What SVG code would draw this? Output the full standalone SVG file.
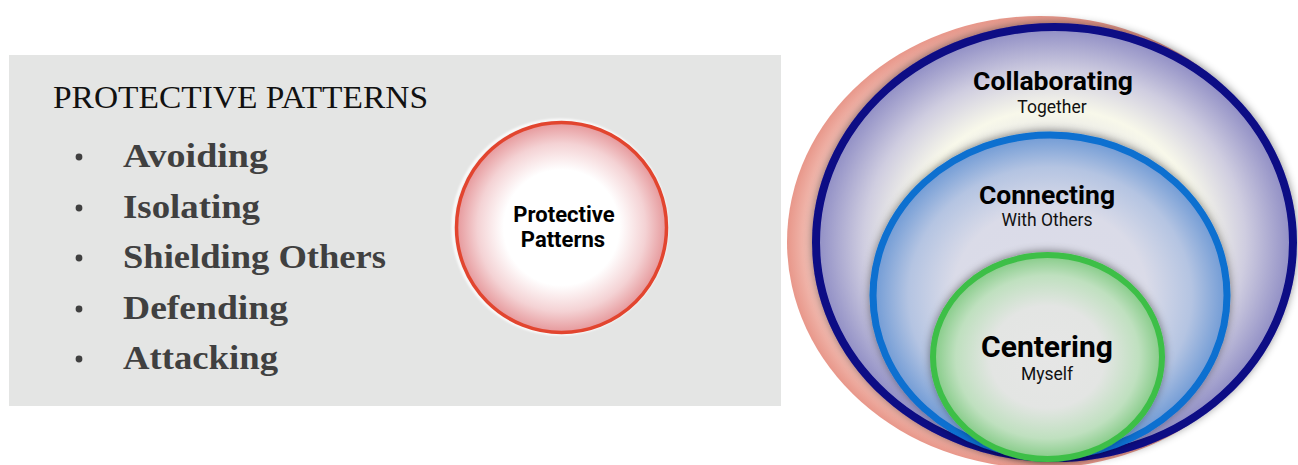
<svg xmlns="http://www.w3.org/2000/svg" width="1298" height="465" viewBox="0 0 1298 465">
  <style>
    .title { font-family: "Liberation Serif", "Times New Roman", serif; font-size: 31px; fill: #111; }
    .item { font-family: "Liberation Serif", "Times New Roman", serif; font-size: 33px; font-weight: bold; fill: #404040; }
    .bullet { fill: #404040; }
    .head { font-family: Roboto, "Liberation Sans", sans-serif; font-weight: bold; fill: #000; text-anchor: middle; }
    .sub { font-family: Roboto, "Liberation Sans", sans-serif; fill: #111; text-anchor: middle; font-size: 17.5px; }
  </style>
  <defs>
    <radialGradient id="gRed" cx="0.5" cy="0.5" r="0.5">
      <stop offset="0" stop-color="#ffffff"/>
      <stop offset="0.55" stop-color="#ffffff"/>
      <stop offset="0.8" stop-color="#f4d2d4"/>
      <stop offset="1" stop-color="#e6989b"/>
    </radialGradient>
    <radialGradient id="gPink" cx="0.5" cy="0.5" r="0.5">
      <stop offset="0" stop-color="#fbe8e4"/>
      <stop offset="0.88" stop-color="#f6cdc4"/>
      <stop offset="1" stop-color="#e8978a"/>
    </radialGradient>
    <radialGradient id="gNavy" cx="0.5" cy="0.5" r="0.5">
      <stop offset="0" stop-color="#d9d9e5"/>
      <stop offset="0.45" stop-color="#e2e2e6"/>
      <stop offset="0.62" stop-color="#f8f8ea"/>
      <stop offset="0.8" stop-color="#cfcde0"/>
      <stop offset="1" stop-color="#8e8cc4"/>
    </radialGradient>
    <radialGradient id="gBlue" cx="0.5" cy="0.5" r="0.5">
      <stop offset="0" stop-color="#dcdce8"/>
      <stop offset="0.55" stop-color="#dadbe8"/>
      <stop offset="0.8" stop-color="#b4c4e2"/>
      <stop offset="1" stop-color="#6f9ad5"/>
    </radialGradient>
    <radialGradient id="gGreen" cx="0.5" cy="0.5" r="0.5">
      <stop offset="0" stop-color="#e6e6e6"/>
      <stop offset="0.5" stop-color="#e3e5e3"/>
      <stop offset="0.8" stop-color="#bfe0bf"/>
      <stop offset="1" stop-color="#84cb86"/>
    </radialGradient>
    <filter id="shadow" x="-10%" y="-10%" width="120%" height="120%">
      <feDropShadow dx="0" dy="-1" stdDeviation="4" flood-color="#000" flood-opacity="0.45"/>
    </filter>
    <filter id="softRim" x="-10%" y="-10%" width="120%" height="120%">
      <feGaussianBlur stdDeviation="1.2"/>
    </filter>
  </defs>

  <!-- grey panel with the list -->
  <g id="panel">
    <rect x="9" y="55" width="772" height="351" fill="#e4e5e4"/>
    <text class="title" x="53" y="108" textLength="375" lengthAdjust="spacingAndGlyphs">PROTECTIVE PATTERNS</text>
  </g>

  <g id="list">
    <circle class="bullet" cx="79" cy="157" r="3.4"/>
    <text class="item" x="123" y="167" textLength="145" lengthAdjust="spacingAndGlyphs">Avoiding</text>
    <circle class="bullet" cx="79" cy="208" r="3.4"/>
    <text class="item" x="123" y="218" textLength="137" lengthAdjust="spacingAndGlyphs">Isolating</text>
    <circle class="bullet" cx="79" cy="258" r="3.4"/>
    <text class="item" x="123" y="268" textLength="263" lengthAdjust="spacingAndGlyphs">Shielding Others</text>
    <circle class="bullet" cx="79" cy="309" r="3.4"/>
    <text class="item" x="123" y="319" textLength="165" lengthAdjust="spacingAndGlyphs">Defending</text>
    <circle class="bullet" cx="79" cy="359" r="3.4"/>
    <text class="item" x="123" y="369" textLength="155" lengthAdjust="spacingAndGlyphs">Attacking</text>
  </g>

  <!-- protective patterns circle -->
  <g id="protective">
    <circle cx="560" cy="227" r="107" fill="none" stroke="#ffffff" stroke-width="2.5" filter="url(#softRim)"/>
    <circle cx="561.5" cy="227.5" r="105" fill="url(#gRed)" stroke="#e2452f" stroke-width="3.5"/>
    <text class="head" x="564" y="222" font-size="22">Protective</text>
    <text class="head" x="563" y="247" font-size="22">Patterns</text>
  </g>

  <!-- nested ellipses -->
  <g id="outer-rim">
    <ellipse cx="1040" cy="242" rx="253" ry="226" fill="url(#gPink)"/>
  </g>

  <g id="collaborating">
    <ellipse cx="1054.5" cy="242.5" rx="238.5" ry="215.5" fill="url(#gNavy)" stroke="#0b0a85" stroke-width="8" filter="url(#shadow)"/>
    <text class="head" x="1053" y="90" font-size="26.5">Collaborating</text>
    <text class="sub" x="1052" y="113">Together</text>
  </g>

  <g id="connecting">
    <ellipse cx="1050" cy="295.5" rx="177" ry="160.5" fill="url(#gBlue)" stroke="#0b6fd0" stroke-width="7" filter="url(#shadow)"/>
    <text class="head" x="1047" y="204" font-size="26.5">Connecting</text>
    <text class="sub" x="1047" y="226">With Others</text>
  </g>

  <g id="centering">
    <ellipse cx="1047.5" cy="357" rx="114.5" ry="102" fill="url(#gGreen)" stroke="#3dbf47" stroke-width="6" filter="url(#shadow)"/>
    <text class="head" x="1047" y="357" font-size="30">Centering</text>
    <text class="sub" x="1047" y="380">Myself</text>
  </g>

  <g id="connectors"/>
</svg>
